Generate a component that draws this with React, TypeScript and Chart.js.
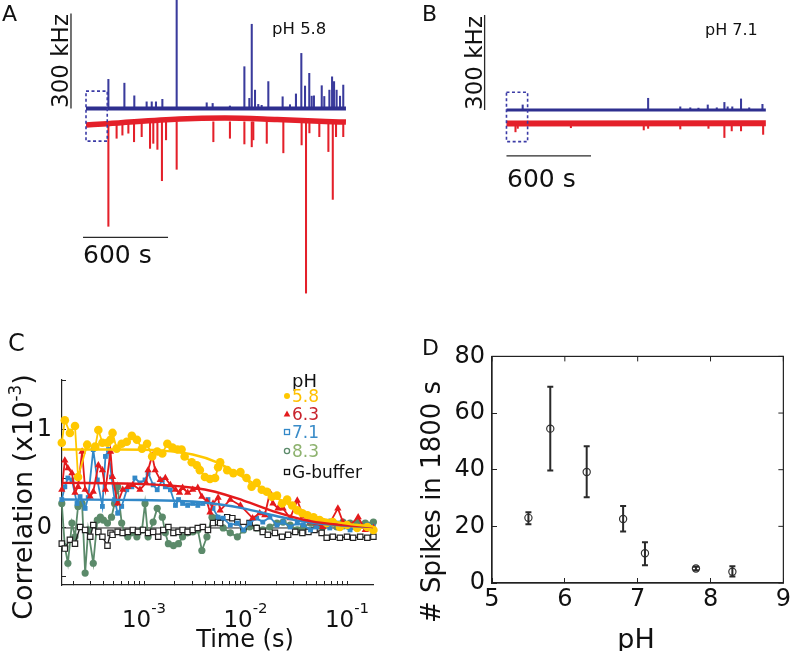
import React, { useEffect, useRef } from 'react';
import { Chart, registerables } from 'chart.js';

Chart.register(...registerables);

const FONT = '"DejaVu Sans", "Liberation Sans", Arial, sans-serif';
const NAVY = '#2e2f8f';
const NAVY_SPIKE = '#3a3b9c';
const RED = '#e4202a';
const BAR = '#2a2a2a';

// ===== Panel A : pH 5.8 (time in s, amplitude in kHz) =====
const aBlueSpikeTimes = [158, 271, 341, 428, 464, 494, 539, 640, 852, 894, 1016, 1118, 1153, 1170, 1193, 1216, 1240, 1287, 1388, 1440, 1482, 1520, 1546, 1576, 1593, 1609, 1664, 1682, 1718, 1737, 1751, 1769, 1793, 1816];
const aBlueSpikeKHz = [92, 80, 40, 21, 21, 21, 29, 450, 18, 16, 8, 132, 32, 266, 58, 13, 10, 85, 37, 12, 46, 174, 71, 111, 39, 40, 72, 38, 58, 100, 85, 58, 39, 74];
const aRedSpikeTimes = [158, 216, 257, 299, 339, 393, 452, 475, 504, 536, 565, 640, 899, 1016, 1118, 1170, 1181, 1276, 1393, 1522, 1553, 1577, 1647, 1711, 1742, 1765, 1816];
const aRedSpikeKHz = [-372, -94, -84, -78, -105, -89, -126, -110, -129, -228, -99, -192, -105, -94, -112, -121, -99, -110, -140, -115, -583, -77, -89, -136, -287, -89, -89];
const aBlueBaseT = [0, 1835];
const aBlueBaseKHz = [0, 0];
const aRedBaseT = [0, 150, 660, 980, 1350, 1690, 1835];
const aRedBaseKHz = [-52, -48, -33, -30, -35, -41, -43];

// ===== Panel B : pH 7.1 =====
const bBlueSpikeTimes = [115, 1005, 1233, 1304, 1362, 1428, 1492, 1546, 1569, 1602, 1664, 1722, 1816];
const bBlueSpikeKHz = [16, 37, 10, 7, 6, 16, 7, 24, 10, 10, 35, 7, 18];
const bRedSpikeTimes = [64, 80, 457, 974, 1005, 1233, 1433, 1546, 1598, 1664, 1821];
const bRedSpikeKHz = [-69, -58, -56, -63, -58, -60, -58, -87, -66, -66, -77];
const bBlueBaseT = [0, 1840];
const bBlueBaseKHz = [0, 0];
const bRedBaseT = [0, 1840];
const bRedBaseKHz = [-43, -42];

// ===== Panel C : correlation vs lag time, points are [log10(time / s), correlation x1e-3] =====
const cPH58 = [[-3.81, 0.87], [-3.78, 1.10], [-3.73, 0.97], [-3.68, 1.04], [-3.65, 0.52], [-3.56, 0.85], [-3.48, 0.83], [-3.45, 1.0], [-3.41, 0.87], [-3.36, 0.87], [-3.33, 0.90], [-3.31, 0.97], [-3.27, 0.81], [-3.22, 0.86], [-3.17, 0.88], [-3.12, 0.94], [-3.07, 0.90], [-3.02, 0.81], [-2.97, 0.86], [-2.92, 0.73], [-2.87, 0.78], [-2.82, 0.76], [-2.77, 0.86], [-2.72, 0.82], [-2.67, 0.80], [-2.63, 0.80], [-2.60, 0.73], [-2.53, 0.67], [-2.48, 0.64], [-2.45, 0.59], [-2.40, 0.52], [-2.35, 0.50], [-2.30, 0.51], [-2.27, 0.62], [-2.25, 0.67], [-2.18, 0.59], [-2.12, 0.56], [-2.05, 0.57], [-1.99, 0.51], [-1.94, 0.42], [-1.89, 0.46], [-1.84, 0.39], [-1.79, 0.37], [-1.74, 0.32], [-1.69, 0.33], [-1.64, 0.25], [-1.59, 0.29], [-1.54, 0.23], [-1.49, 0.18], [-1.44, 0.15], [-1.39, 0.13], [-1.33, 0.11], [-1.27, 0.08], [-1.20, 0.05], [-1.14, 0.06], [-1.07, 0.01], [-1.00, 0.03], [-0.90, 0.0], [-0.80, 0.01], [-0.74, -0.02]];
const cPH63 = [[-3.81, 0.39], [-3.78, 0.69], [-3.75, 0.61], [-3.71, 0.56], [-3.68, 0.36], [-3.65, 0.42], [-3.61, 0.78], [-3.58, 0.39], [-3.53, 0.32], [-3.50, 0.37], [-3.45, 0.64], [-3.41, 0.59], [-3.38, 0.39], [-3.33, 0.78], [-3.31, 0.52], [-3.26, 0.25], [-3.21, 0.39], [-3.16, 0.42], [-3.11, 0.44], [-3.04, 0.39], [-2.98, 0.46], [-2.96, 0.59], [-2.92, 0.74], [-2.89, 0.59], [-2.84, 0.49], [-2.79, 0.51], [-2.74, 0.44], [-2.69, 0.39], [-2.65, 0.36], [-2.62, 0.41], [-2.57, 0.36], [-2.52, 0.39], [-2.47, 0.41], [-2.43, 0.32], [-2.38, 0.27], [-2.35, 0.16], [-2.32, 0.25], [-2.27, 0.31], [-2.25, 0.18], [-2.15, 0.29], [-2.05, 0.23], [-1.93, 0.10], [-1.86, 0.15], [-1.81, 0.13], [-1.76, 0.36], [-1.73, 0.25], [-1.68, 0.20], [-1.63, 0.20], [-1.56, 0.10], [-1.49, 0.28], [-1.43, 0.12], [-1.36, 0.06], [-1.30, 0.05], [-1.24, 0.01], [-1.17, 0.05], [-1.09, 0.20], [-1.04, 0.06], [-0.97, 0.03], [-0.89, 0.11], [-0.82, -0.02], [-0.74, 0.0]];
const cPH71 = [[-3.81, 0.29], [-3.78, 0.42], [-3.75, 0.51], [-3.71, 0.49], [-3.66, 0.25], [-3.63, 0.32], [-3.58, 0.20], [-3.55, 0.31], [-3.50, 0.80], [-3.46, 0.49], [-3.41, 0.22], [-3.38, 0.73], [-3.35, 0.80], [-3.32, 0.52], [-3.29, 0.29], [-3.26, 0.15], [-3.22, 0.22], [-3.17, 0.39], [-3.12, 0.42], [-3.09, 0.51], [-3.04, 0.46], [-2.99, 0.49], [-2.96, 0.56], [-2.91, 0.44], [-2.87, 0.39], [-2.82, 0.49], [-2.79, 0.42], [-2.74, 0.39], [-2.69, 0.23], [-2.66, 0.29], [-2.62, 0.25], [-2.57, 0.23], [-2.52, 0.25], [-2.47, 0.23], [-2.42, 0.25], [-2.37, 0.29], [-2.32, 0.20], [-2.27, 0.11], [-2.22, 0.10], [-2.15, 0.03], [-2.08, 0.05], [-2.02, -0.02], [-1.96, 0.05], [-1.89, 0.10], [-1.83, 0.06], [-1.76, 0.11], [-1.69, 0.03], [-1.63, 0.06], [-1.56, 0.01], [-1.49, 0.05], [-1.43, 0.03], [-1.36, -0.02], [-1.30, 0.01], [-1.24, 0.06], [-1.17, 0.0], [-1.10, 0.05], [-1.04, 0.01], [-0.97, -0.02], [-0.89, 0.01], [-0.80, 0.03], [-0.74, 0.01]];
const cPH83 = [[-3.81, 0.25], [-3.78, -0.19], [-3.75, -0.36], [-3.71, 0.05], [-3.68, -0.09], [-3.65, 0.22], [-3.61, 0.25], [-3.58, -0.46], [-3.55, -0.02], [-3.50, -0.36], [-3.46, 0.08], [-3.43, 0.11], [-3.40, 0.08], [-3.36, 0.05], [-3.32, 0.11], [-3.29, 0.25], [-3.26, 0.42], [-3.22, 0.05], [-3.19, -0.05], [-3.16, -0.09], [-3.12, -0.05], [-3.07, -0.09], [-3.02, -0.02], [-2.99, 0.25], [-2.96, -0.09], [-2.91, 0.06], [-2.87, 0.20], [-2.82, 0.11], [-2.79, -0.05], [-2.76, -0.16], [-2.71, -0.18], [-2.66, -0.16], [-2.62, -0.09], [-2.57, -0.05], [-2.52, -0.04], [-2.47, -0.02], [-2.43, -0.23], [-2.38, -0.09], [-2.33, 0.11], [-2.28, 0.10], [-2.22, 0.0], [-2.15, -0.05], [-2.08, -0.09], [-2.02, -0.02], [-1.96, 0.01], [-1.89, 0.0], [-1.83, -0.02], [-1.76, 0.01], [-1.69, 0.05], [-1.63, 0.06], [-1.56, 0.03], [-1.49, -0.02], [-1.43, 0.01], [-1.36, 0.05], [-1.30, 0.03], [-1.24, 0.01], [-1.17, 0.06], [-1.10, 0.01], [-1.04, 0.06], [-0.97, 0.05], [-0.90, 0.06], [-0.82, 0.05], [-0.74, 0.06]];
const cGBuffer = [[-3.81, -0.16], [-3.78, -0.21], [-3.73, -0.12], [-3.68, -0.16], [-3.63, 0.01], [-3.58, -0.02], [-3.53, -0.09], [-3.50, 0.03], [-3.45, -0.04], [-3.41, -0.09], [-3.36, -0.18], [-3.33, -0.05], [-3.31, -0.07], [-3.26, -0.04], [-3.21, -0.05], [-3.16, -0.04], [-3.11, -0.02], [-3.06, -0.04], [-3.01, -0.02], [-2.96, -0.05], [-2.91, -0.04], [-2.86, -0.09], [-2.81, -0.02], [-2.76, 0.01], [-2.71, -0.05], [-2.66, -0.04], [-2.62, -0.02], [-2.57, -0.04], [-2.52, -0.02], [-2.47, 0.0], [-2.42, 0.01], [-2.37, -0.02], [-2.32, 0.05], [-2.27, 0.06], [-2.25, 0.05], [-2.18, 0.11], [-2.13, 0.10], [-2.08, 0.06], [-2.02, 0.01], [-1.96, 0.05], [-1.89, 0.0], [-1.83, -0.04], [-1.78, -0.07], [-1.71, -0.05], [-1.64, -0.09], [-1.58, -0.07], [-1.51, -0.04], [-1.44, -0.05], [-1.38, -0.04], [-1.32, -0.02], [-1.25, -0.05], [-1.20, -0.10], [-1.14, -0.09], [-1.07, -0.10], [-1.00, -0.09], [-0.94, -0.10], [-0.87, -0.09], [-0.80, -0.10], [-0.74, -0.09]];
const cFit58 = [[-3.81, 0.80], [-3.24, 0.80], [-2.84, 0.79], [-2.52, 0.75], [-2.28, 0.67], [-1.96, 0.48], [-1.63, 0.27], [-1.46, 0.18], [-1.30, 0.11], [-1.04, 0.05], [-0.74, 0.015]];
const cFit63 = [[-3.81, 0.46], [-3.04, 0.45], [-2.52, 0.41], [-2.30, 0.37], [-2.02, 0.28], [-1.69, 0.16], [-1.36, 0.07], [-1.04, 0.03], [-0.74, 0.01]];
const cFit71 = [[-3.81, 0.29], [-3.04, 0.285], [-2.52, 0.27], [-2.25, 0.24], [-2.02, 0.20], [-1.69, 0.12], [-1.36, 0.055], [-1.04, 0.025], [-0.74, 0.01]];
const cZero = [[-3.81, 0], [-0.74, 0]];
const cXTicks = [2e-4, 3e-4, 4e-4, 5e-4, 6e-4, 7e-4, 8e-4, 9e-4, 1e-3, 2e-3, 3e-3, 4e-3, 5e-3, 6e-3, 7e-3, 8e-3, 9e-3, 1e-2, 2e-2, 3e-2, 4e-2, 5e-2, 6e-2, 7e-2, 8e-2, 9e-2, 1e-1];
const cXLabelValues = [1e-3, 1e-2, 1e-1];
const cXLabelExponents = ['-3', '-2', '-1'];
const cYTicks = [-0.5, 0, 0.5, 1, 1.5];
const cYTickLabels = ['', '0', '', '1', ''];
const cLegendTitle = 'pH';
const cLegendLabels = ['5.8', '6.3', '7.1', '8.3', 'G-buffer'];
const cLegendTextColors = ['#ffc000', '#c8222c', '#3a8cc8', '#8db26e', '#111111'];
const cLegendMarkerColors = ['#ffc800', '#e41a1c', '#3288c8', '#5b8a6a', '#111111'];
const cLegendMarkers = ['circle', 'triangle', 'openRect', 'openCircle', 'openRect'];

// ===== Panel D : spikes vs pH =====
const dPH = [5.5, 5.8, 6.3, 6.8, 7.1, 7.8, 8.3];
const dSpikes = [23.0, 54.5, 39.2, 22.6, 10.5, 5.1, 4.0];
const dErrLow = [20.7, 39.7, 30.3, 18.2, 6.3, 4.5, 2.3];
const dErrHigh = [25.0, 69.3, 48.3, 27.2, 14.4, 5.7, 5.9];

type Part = { t: string; sup?: boolean };
type TextItem = { parts: Part[]; x: number; y: number; size: number; rot?: number; align?: 'left' | 'center'; color?: string; supScale?: number; supRaise?: number };

function drawRich(ctx: CanvasRenderingContext2D, it: TextItem) {
  const supSize = it.size * (it.supScale ?? 0.62);
  const raise = it.size * (it.supRaise ?? 0.42);
  ctx.save();
  ctx.translate(it.x, it.y);
  if (it.rot) ctx.rotate(it.rot);
  ctx.textAlign = 'left';
  ctx.textBaseline = 'alphabetic';
  ctx.fillStyle = it.color ?? '#111';
  const widths = it.parts.map((p) => {
    ctx.font = `${p.sup ? supSize : it.size}px ${FONT}`;
    return ctx.measureText(p.t).width;
  });
  const total = widths.reduce((a, b) => a + b, 0);
  let cx = it.align === 'center' ? -total / 2 : 0;
  it.parts.forEach((p, i) => {
    ctx.font = `${p.sup ? supSize : it.size}px ${FONT}`;
    ctx.fillText(p.t, cx, p.sup ? -raise : 0);
    cx += widths[i];
  });
  ctx.restore();
}

const textPlugin = (id: string, items: TextItem[]) => ({
  id,
  afterDraw(chart: any) {
    items.forEach((it) => drawRich(chart.ctx, it));
  },
});

const pts = (xs: number[], ys: number[]) => xs.map((x, i) => ({ x, y: ys[i] }));
const logPts = (arr: number[][]) => arr.map(([l, y]) => ({ x: Math.pow(10, l), y }));

type TraceProps = {
  xMin: number; xMax: number; yMin: number; yMax: number;
  blueT: number[]; blueV: number[]; redT: number[]; redV: number[];
  blueSpT: number[]; blueSpV: number[]; redSpT: number[]; redSpV: number[];
  redSpFrom: number; blueW: number; redW: number;
  hBar: { x0: number; x1: number; y: number };
  vBar: { x: number; y0: number; y1: number };
  box: { x0: number; x1: number; y0: number; y1: number };
  texts: TextItem[];
};

function traceConfig(p: TraceProps): any {
  const ds: any[] = [
    {
      type: 'line', data: [
        { x: p.box.x0, y: p.box.y1 }, { x: p.box.x1, y: p.box.y1 }, { x: p.box.x1, y: p.box.y0 },
        { x: p.box.x0, y: p.box.y0 }, { x: p.box.x0, y: p.box.y1 }],
      borderColor: '#3b3ba6', borderWidth: 1.6, borderDash: [3, 2.5], pointRadius: 0, order: 0,
    },
    { type: 'line', data: [{ x: p.hBar.x0, y: p.hBar.y }, { x: p.hBar.x1, y: p.hBar.y }], borderColor: BAR, borderWidth: 1.3, pointRadius: 0, order: 1 },
    { type: 'line', data: [{ x: p.vBar.x, y: p.vBar.y0 }, { x: p.vBar.x, y: p.vBar.y1 }], borderColor: BAR, borderWidth: 1.3, pointRadius: 0, order: 1 },
    { type: 'line', data: pts(p.blueT, p.blueV), borderColor: NAVY, borderWidth: p.blueW, pointRadius: 0, order: 2 },
    { type: 'bar', data: p.blueSpT.map((t, i) => ({ x: t, y: [0, p.blueSpV[i]] })), backgroundColor: NAVY_SPIKE, barThickness: 1.4, grouped: false, order: 3 },
    { type: 'line', data: pts(p.redT, p.redV), borderColor: RED, borderWidth: p.redW, pointRadius: 0, cubicInterpolationMode: 'monotone', order: 4 },
    { type: 'bar', data: p.redSpT.map((t, i) => ({ x: t, y: [p.redSpFrom, p.redSpV[i]] })), backgroundColor: RED, barThickness: 1.4, grouped: false, order: 5 },
  ];
  return {
    type: 'bar',
    data: { datasets: ds },
    options: {
      animation: false, responsive: false, maintainAspectRatio: false,
      layout: { padding: 0 },
      plugins: { legend: { display: false }, tooltip: { enabled: false } },
      scales: {
        x: { type: 'linear', min: p.xMin, max: p.xMax, offset: false, display: false },
        y: { type: 'linear', min: p.yMin, max: p.yMax, display: false },
      },
    },
    plugins: [textPlugin('traceTexts', p.texts)],
  };
}

const aConfig = () => traceConfig({
  xMin: -607.1, xMax: 2216.5, yMin: -604.7, yMax: 342.6,
  blueT: aBlueBaseT, blueV: aBlueBaseKHz, redT: aRedBaseT, redV: aRedBaseKHz,
  blueSpT: aBlueSpikeTimes, blueSpV: aBlueSpikeKHz, redSpT: aRedSpikeTimes, redSpV: aRedSpikeKHz,
  redSpFrom: -42, blueW: 4, redW: 5.5,
  hBar: { x0: -21, x1: 579, y: -407 },
  vBar: { x: -106, y0: 0, y1: 300 },
  box: { x0: 0, x1: 150, y0: -103, y1: 55 },
  texts: [
    { parts: [{ t: 'A' }], x: 2, y: 21, size: 22 },
    { parts: [{ t: '300 kHz' }], x: 68, y: 61, size: 23, rot: -Math.PI / 2, align: 'center' },
    { parts: [{ t: 'pH 5.8' }], x: 272, y: 34, size: 16.5 },
    { parts: [{ t: '600 s' }], x: 83, y: 263, size: 25 },
  ],
});

const bConfig = () => traceConfig({
  xMin: -755.3, xMax: 2068.2, yMin: -600, yMax: 347.4,
  blueT: bBlueBaseT, blueV: bBlueBaseKHz, redT: bRedBaseT, redV: bRedBaseKHz,
  blueSpT: bBlueSpikeTimes, blueSpV: bBlueSpikeKHz, redSpT: bRedSpikeTimes, redSpV: bRedSpikeKHz,
  redSpFrom: -40, blueW: 3, redW: 6,
  hBar: { x0: 0, x1: 600, y: -145 },
  vBar: { x: -155, y0: 0, y1: 300 },
  box: { x0: 0, x1: 150, y0: -100, y1: 56 },
  texts: [
    { parts: [{ t: 'B' }], x: 22, y: 21, size: 22 },
    { parts: [{ t: '300 kHz' }], x: 82, y: 63, size: 23, rot: -Math.PI / 2, align: 'center' },
    { parts: [{ t: 'pH 7.1' }], x: 305, y: 35, size: 16 },
    { parts: [{ t: '600 s' }], x: 107, y: 187, size: 25 },
  ],
});

const cLegendPlugin = {
  id: 'cLegend',
  afterDraw(chart: any) {
    const ctx = chart.ctx as CanvasRenderingContext2D;
    const tx = 292, mx = 287;
    const baselines = [72, 90, 108, 127, 148];
    drawRich(ctx, { parts: [{ t: cLegendTitle }], x: tx, y: 57, size: 18, color: '#111' });
    cLegendLabels.forEach((lab, i) => {
      const by = baselines[i];
      drawRich(ctx, { parts: [{ t: lab }], x: tx, y: by, size: 17, color: cLegendTextColors[i] });
      const my = by - 6;
      const col = cLegendMarkerColors[i];
      ctx.save();
      ctx.fillStyle = col; ctx.strokeStyle = col; ctx.lineWidth = 1.3;
      const m = cLegendMarkers[i];
      if (m === 'circle') { ctx.beginPath(); ctx.arc(mx, my, 3, 0, Math.PI * 2); ctx.fill(); }
      else if (m === 'openCircle') { ctx.beginPath(); ctx.arc(mx, my, 2.6, 0, Math.PI * 2); ctx.stroke(); }
      else if (m === 'triangle') { ctx.beginPath(); ctx.moveTo(mx, my - 3.5); ctx.lineTo(mx + 3.3, my + 2.5); ctx.lineTo(mx - 3.3, my + 2.5); ctx.closePath(); ctx.fill(); }
      else { ctx.strokeRect(mx - 2.5, my - 2.5, 5, 5); }
      ctx.restore();
    });
  },
};

const cXLabelPlugin = {
  id: 'cXLabels',
  afterDraw(chart: any) {
    const xs = chart.scales.x;
    cXLabelValues.forEach((v, i) => {
      drawRich(chart.ctx, { parts: [{ t: '10' }, { t: cXLabelExponents[i], sup: true }], x: xs.getPixelForValue(v), y: 297, size: 23, align: 'center', supScale: 0.65, supRaise: 0.62 });
    });
  },
};

const cConfig = (): any => {
  const line = (data: number[][], color: string, style: any, radius: number, order: number, extra: any = {}) => ({
    data: logPts(data), borderColor: color, backgroundColor: color, pointBackgroundColor: color,
    pointBorderColor: color, pointStyle: style, pointRadius: radius, pointBorderWidth: 0,
    borderWidth: 1.8, order, clip: 8, ...extra,
  });
  return {
    type: 'line',
    data: {
      datasets: [
        { data: logPts(cFit58), borderColor: '#ffc800', borderWidth: 2.4, pointRadius: 0, cubicInterpolationMode: 'monotone', order: 0 },
        { data: logPts(cFit63), borderColor: '#e41a1c', borderWidth: 2.4, pointRadius: 0, cubicInterpolationMode: 'monotone', order: 0 },
        { data: logPts(cFit71), borderColor: '#3288c8', borderWidth: 2.4, pointRadius: 0, cubicInterpolationMode: 'monotone', order: 0 },
        line(cPH58, '#ffc800', 'circle', 4.3, 1),
        line(cPH63, '#e41a1c', 'triangle', 4.2, 2),
        line(cPH71, '#3288c8', 'rect', 3.4, 3),
        line(cGBuffer, '#222222', 'rect', 3.8, 4, { pointBackgroundColor: '#ffffff', pointBorderWidth: 1.2, borderWidth: 1.4 }),
        line(cPH83, '#5b8a6a', 'circle', 3.6, 5),
        { data: logPts(cZero), borderColor: '#222', borderWidth: 1, pointRadius: 0, order: 6 },
      ],
    },
    options: {
      animation: false, responsive: false, maintainAspectRatio: false,
      layout: { padding: { top: 50, right: 27, left: 0, bottom: 0 } },
      plugins: { legend: { display: false }, tooltip: { enabled: false } },
      scales: {
        x: {
          type: 'logarithmic', min: Math.pow(10, -3.808), max: Math.pow(10, -0.744),
          afterFit: (s: any) => { s.height = 66; },
          afterBuildTicks: (s: any) => { s.ticks = cXTicks.map((v) => ({ value: v })); },
          ticks: { display: false },
          grid: { drawOnChartArea: false, drawTicks: true, tickLength: -4, color: '#222', lineWidth: 1 },
          border: { display: true, color: '#222', width: 1.2 },
        },
        y: {
          type: 'linear', min: -0.582, max: 1.51,
          afterFit: (s: any) => { s.width = 62; },
          afterBuildTicks: (s: any) => { s.ticks = cYTicks.map((v) => ({ value: v })); },
          ticks: { callback: (_v: any, i: number) => cYTickLabels[i], font: { family: FONT, size: 24 }, color: '#111', padding: 14 },
          grid: { drawOnChartArea: false, drawTicks: true, tickLength: -4, color: '#222', lineWidth: 1 },
          border: { display: true, color: '#222', width: 1.2 },
        },
      },
    },
    plugins: [
      cLegendPlugin, cXLabelPlugin,
      textPlugin('cTexts', [
        { parts: [{ t: 'C' }], x: 8, y: 21, size: 24 },
        { parts: [{ t: 'Correlation (x10' }, { t: '-3', sup: true }, { t: ')' }], x: 32, y: 167, size: 27, rot: -Math.PI / 2, align: 'center' },
        { parts: [{ t: 'Time (s)' }], x: 245, y: 317, size: 24, align: 'center' },
      ]),
    ],
  };
};

const dDecorPlugin = {
  id: 'dDecor',
  afterDatasetsDraw(chart: any) {
    const ctx = chart.ctx as CanvasRenderingContext2D;
    const { x, y } = chart.scales;
    const a = chart.chartArea;
    ctx.save();
    ctx.strokeStyle = '#222';
    ctx.lineWidth = 1.2;
    ctx.strokeRect(a.left, a.top, a.right - a.left, a.bottom - a.top);
    ctx.lineWidth = 1;
    x.ticks.forEach((t: any) => {
      const px = x.getPixelForValue(t.value);
      ctx.beginPath(); ctx.moveTo(px, a.top); ctx.lineTo(px, a.top + 5); ctx.stroke();
    });
    y.ticks.forEach((t: any) => {
      const py = y.getPixelForValue(t.value);
      ctx.beginPath(); ctx.moveTo(a.right, py); ctx.lineTo(a.right - 5, py); ctx.stroke();
    });
    ctx.strokeStyle = '#2a2a2a';
    ctx.lineWidth = 2;
    dPH.forEach((ph, i) => {
      const px = x.getPixelForValue(ph);
      const lo = y.getPixelForValue(dErrLow[i]);
      const hi = y.getPixelForValue(dErrHigh[i]);
      ctx.beginPath();
      ctx.moveTo(px, lo); ctx.lineTo(px, hi);
      ctx.moveTo(px - 3, lo); ctx.lineTo(px + 3, lo);
      ctx.moveTo(px - 3, hi); ctx.lineTo(px + 3, hi);
      ctx.stroke();
    });
    ctx.restore();
  },
};

const dConfig = (): any => ({
  type: 'scatter',
  data: {
    datasets: [{
      data: pts(dPH, dSpikes), pointRadius: 3.6, pointStyle: 'circle',
      pointBackgroundColor: 'rgba(255,255,255,0)', pointBorderColor: '#333', pointBorderWidth: 1.2,
    }],
  },
  options: {
    animation: false, responsive: false, maintainAspectRatio: false,
    layout: { padding: { top: 18, right: 8, left: 0, bottom: 0 } },
    plugins: { legend: { display: false }, tooltip: { enabled: false } },
    scales: {
      x: {
        type: 'linear', min: 5, max: 9,
        afterFit: (s: any) => { s.height = 68; },
        ticks: { stepSize: 1, font: { family: FONT, size: 24 }, color: '#111', padding: 7 },
        grid: { drawOnChartArea: false, drawTicks: true, tickLength: -5, color: '#222' },
        border: { display: true, color: '#222', width: 1.2 },
      },
      y: {
        type: 'linear', min: 0, max: 80,
        afterFit: (s: any) => { s.width = 92; },
        ticks: { stepSize: 20, font: { family: FONT, size: 24 }, color: '#111', padding: 12 },
        grid: { drawOnChartArea: false, drawTicks: true, tickLength: -5, color: '#222' },
        border: { display: true, color: '#222', width: 1.2 },
      },
    },
  },
  plugins: [
    dDecorPlugin,
    textPlugin('dTexts', [
      { parts: [{ t: 'D' }], x: 22, y: 25, size: 22 },
      { parts: [{ t: 'pH' }], x: 236, y: 318, size: 27, align: 'center' },
      { parts: [{ t: '# Spikes in 1800 s' }], x: 40, y: 172, size: 26, rot: -Math.PI / 2, align: 'center' },
    ]),
  ],
});

function ChartBox({ left, top, width, height, make }: { left: number; top: number; width: number; height: number; make: () => any }) {
  const ref = useRef<HTMLCanvasElement>(null);
  useEffect(() => {
    const chart = new Chart(ref.current as HTMLCanvasElement, make());
    return () => chart.destroy();
  }, []);
  return <canvas ref={ref} width={width} height={height} style={{ position: 'absolute', left, top, width, height }} />;
}

export default function App() {
  return (
    <div style={{ position: 'absolute', left: 0, top: 0, width: 798, height: 651, background: '#fff', overflow: 'hidden' }}>
      <ChartBox left={0} top={0} width={400} height={300} make={aConfig} />
      <ChartBox left={400} top={0} width={398} height={300} make={bConfig} />
      <ChartBox left={0} top={330} width={400} height={321} make={cConfig} />
      <ChartBox left={400} top={330} width={398} height={321} make={dConfig} />
    </div>
  );
}
